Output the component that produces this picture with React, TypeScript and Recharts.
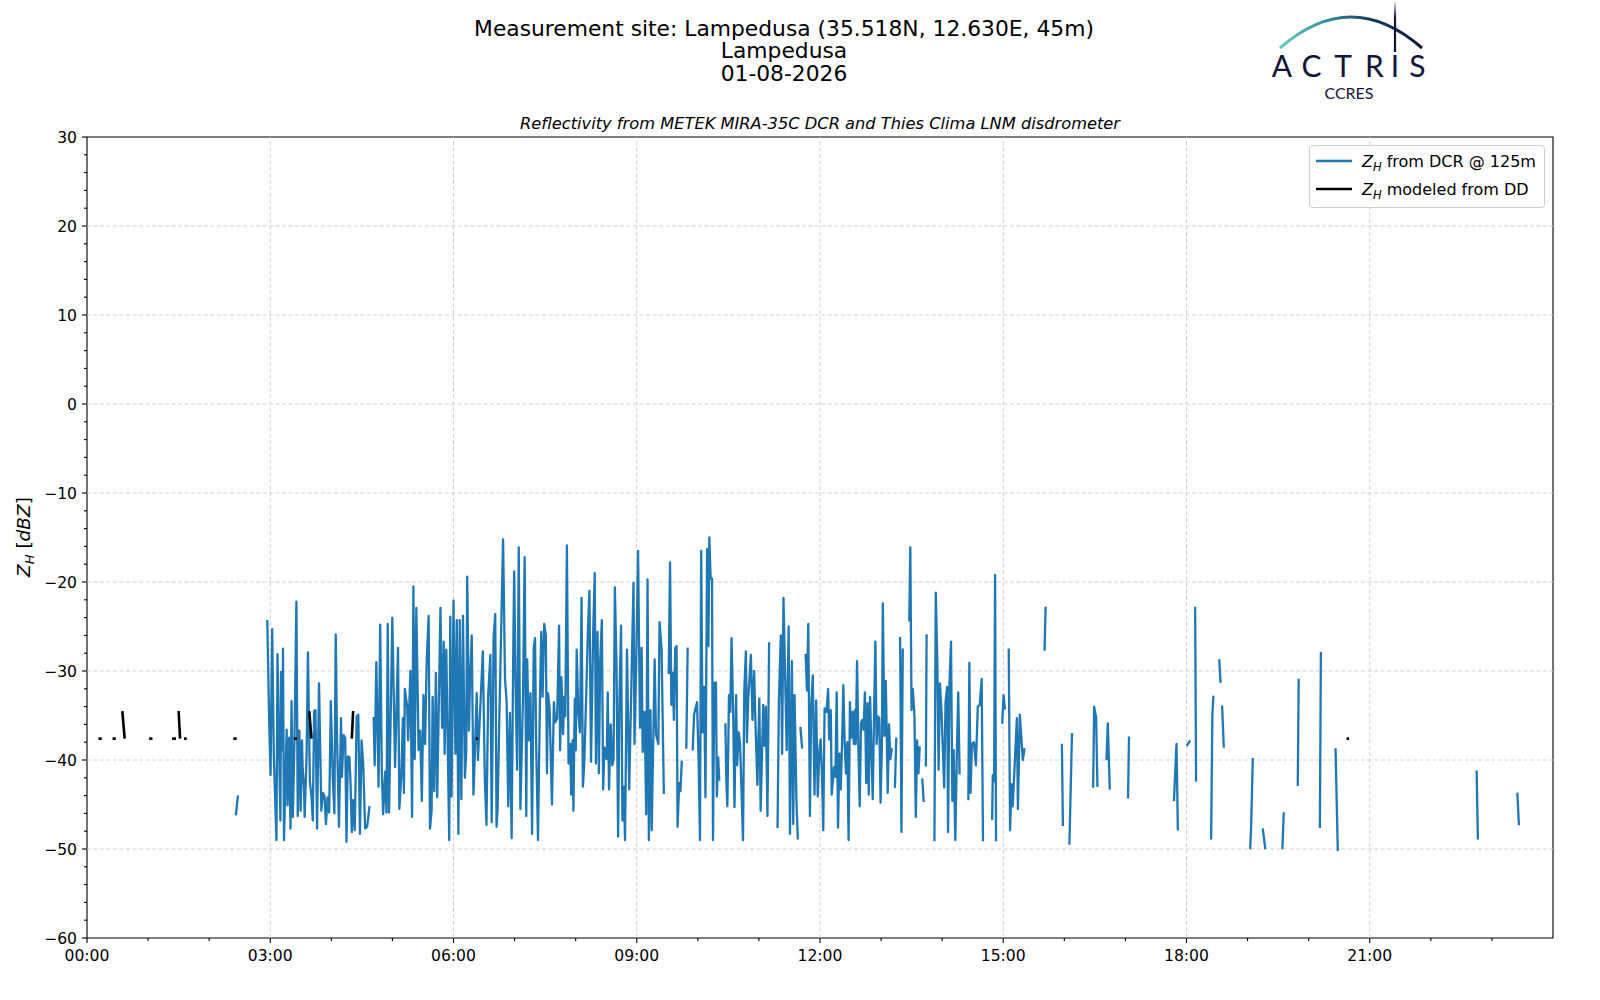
import React from 'react';
import { LineChart, Line, XAxis, YAxis, ReferenceLine, ReferenceArea } from 'recharts';

// ---------- data (time in minutes since 00:00 UTC, value in dBZ; null = gap) ----------
const dcrSeries: Array<[number, number | null]> = [
  [146.3, -46.1], [148.2, -44.1], [160, null],
  [177.1, -24.4], [179.0, -35.9], [180.3, -41.7], [181.9, -25.3], [183.5, -39.5], [186.1, -49.0], [187.1, -28.1], [188.7, -38.9], [190.0, -46.8], [190.6, -30.1],
  [191.9, -38.9], [192.5, -27.5], [193.5, -49.0], [196.1, -36.6], [197.0, -45.1], [198.6, -37.5], [199.9, -47.7], [200.9, -33.4], [202.2, -46.4], [203.8, -37.7],
  [205.7, -22.2], [207.0, -46.3], [208.6, -36.7], [209.9, -45.7], [211.2, -37.8], [211.8, -40.8], [213.1, -43.1], [213.8, -46.4], [215.7, -39.5], [217.0, -27.9],
  [218.9, -42.4], [220.5, -44.1], [221.8, -46.8], [223.1, -34.5], [224.4, -34.4], [226.0, -47.7], [227.9, -31.4], [230.2, -45.7], [231.8, -43.7], [233.4, -44.1],
  [234.7, -47.2], [236.3, -44.2], [237.9, -45.9], [239.5, -33.4], [241.4, -41.9], [243.0, -46.0], [244.3, -25.9], [245.6, -37.5], [247.5, -47.5], [249.5, -35.3],
  [250.4, -41.9], [252.0, -37.2], [253.6, -37.5], [254.9, -49.2], [256.2, -39.6], [257.8, -39.7], [258.8, -42.4], [260.1, -48.1], [261.4, -44.5], [263.0, -47.9],
  [264.9, -35.1], [266.5, -34.9], [268.1, -48.3], [269.7, -37.8], [271.3, -40.4], [273.2, -47.7], [275.2, -47.5], [277.4, -45.3], [279, null],
  [281.6, -35.3], [282.6, -40.6], [284.2, -29.0], [286.4, -43.0], [288.0, -24.8], [289.6, -41.3], [290.9, -46.1], [292.9, -41.3], [294.2, -45.9], [295.4, -24.7],
  [296.7, -45.9], [299.9, -24.0], [302.6, -40.8], [305.5, -27.4], [306.8, -45.5], [308.7, -41.9], [310.3, -35.3], [311.3, -43.7], [312.2, -32.0], [314.5, -34.0],
  [315.4, -37.8], [317.7, -30.0], [319.3, -46.4], [320.6, -20.5], [321.9, -39.9], [323.5, -22.9], [325.7, -38.9], [327.3, -36.7], [328.9, -44.6], [330.5, -32.7],
  [332.1, -38.2], [333.7, -28.7], [335.6, -23.8], [336.9, -47.7], [338.5, -45.7], [339.5, -32.9], [341.1, -43.5], [342.7, -30.2], [344.0, -44.2], [347.2, -22.9],
  [348.8, -36.4], [350.4, -26.7], [351.3, -39.3], [352.9, -27.6], [354.6, -40.0], [355.8, -49.0], [356.8, -23.9], [358.1, -44.1], [360.0, -22.1], [361.9, -39.3],
  [363.2, -24.3], [364.8, -48.3], [366.1, -24.3], [367.7, -44.4], [369.3, -23.8], [371.2, -42.0], [372.5, -39.1], [373.5, -19.4], [375.1, -36.7], [376.3, -30.9],
  [377.9, -26.0], [379.6, -43.9], [380.8, -39.9], [382.8, -32.5], [384.0, -40.0], [388.8, -27.8], [390.8, -42.2], [392.4, -47.3], [394.0, -32.9], [396.2, -28.2],
  [397.5, -47.0], [399.4, -26.3], [401.0, -23.6], [402.3, -47.5], [403.3, -45.5], [404.9, -36.0], [406.8, -25.6], [408.7, -15.2], [410.6, -30.9], [412.2, -33.5],
  [413.8, -45.2], [415.4, -34.7], [417.1, -48.8], [418.7, -27.6], [419.6, -18.8], [420.9, -31.1], [422.5, -41.1], [424.1, -16.1], [425.7, -45.5], [428.3, -32.7],
  [429.9, -17.2], [431.5, -46.3], [432.4, -28.7], [434.0, -37.8], [435.6, -32.5], [437.2, -48.3], [438.8, -27.4], [440.1, -26.3], [441.1, -37.7], [443.0, -49.0],
  [444.9, -33.3], [446.2, -25.6], [447.5, -32.9], [449.1, -24.7], [450.7, -26.0], [451.8, -41.5], [452.8, -32.5], [454.4, -34.2], [456.7, -45.0], [458.6, -33.5],
  [459.9, -35.8], [461.8, -35.3], [463.7, -24.9], [464.7, -38.9], [466.0, -30.7], [467.6, -37.1], [468.8, -32.9], [469.8, -35.1], [471.4, -15.9], [473.0, -40.4],
  [474.6, -38.2], [475.6, -43.9], [476.9, -37.8], [477.8, -45.7], [479.1, -33.1], [480.1, -38.9], [481.0, -27.6], [482.6, -34.6], [484.2, -36.9], [485.8, -21.8],
  [487.1, -43.0], [488.4, -40.4], [490.3, -33.0], [491.9, -26.0], [493.5, -21.0], [495.1, -40.2], [497.1, -26.1], [498.7, -19.0], [499.9, -40.4], [501.5, -25.6],
  [502.8, -41.5], [504.1, -28.9], [505.7, -24.3], [507.0, -43.3], [508.3, -38.6], [510.5, -39.9], [511.5, -32.4], [512.8, -43.3], [514.4, -36.0], [516.0, -40.6],
  [517.2, -40.0], [518.5, -20.6], [520.1, -29.3], [521.7, -48.6], [523.0, -33.1], [524.6, -24.9], [525.9, -46.8], [527.2, -43.0], [528.5, -49.0], [530.4, -27.6],
  [532.6, -43.3], [536.8, -20.1], [537.8, -38.2], [539.4, -29.4], [541.3, -16.5], [543.2, -36.4], [544.8, -27.4], [545.8, -39.1], [547.7, -34.6], [549.3, -46.1],
  [550.6, -19.7], [551.9, -49.0], [553.5, -34.4], [554.7, -47.9], [557.6, -28.7], [558.9, -37.1], [561.2, -38.2], [562.4, -24.5], [564.4, -27.6], [566.6, -43.7],
  [569, null],
  [571.4, -30.2], [572.7, -17.8], [574.0, -33.8], [575.3, -30.2], [576.5, -35.5], [577.8, -27.4], [579.1, -27.2], [580.1, -47.5], [581.7, -42.6], [582.9, -43.5],
  [584.2, -40.2], [586, null],
  [588.7, -38.6], [590.0, -27.5], [592, null],
  [595.0, -38.8], [596.3, -34.9], [599.2, -33.5], [600.8, -40.2], [602.1, -49.0], [603.3, -16.5], [604.6, -36.9], [606.2, -31.8], [607.5, -44.2], [609.1, -16.3],
  [610.4, -27.2], [611.3, -15.0], [612.6, -19.6], [613.9, -19.6], [614.9, -49.0], [616.2, -31.3], [617.8, -31.3], [618.7, -44.1], [620.0, -39.7], [621.0, -42.2],
  [624, null],
  [627.1, -36.0], [628.0, -42.4], [629.0, -45.2], [630.6, -32.7], [631.9, -34.6], [633.1, -26.3], [634.7, -34.6], [636.0, -45.3], [637.6, -32.7], [638.6, -40.6],
  [640.2, -36.9], [641.5, -38.2], [644.4, -49.0], [645.6, -32.4], [647.2, -27.8], [648.2, -38.0], [649.5, -33.1], [652.1, -28.2], [653.7, -35.5], [655.3, -30.0],
  [656.5, -35.5], [658.5, -42.8], [660.4, -33.1], [661.7, -45.7], [664.2, -33.8], [665.5, -38.4], [666.8, -34.0], [668.4, -46.3], [670.0, -26.9], [674, null],
  [678.3, -47.5], [679.6, -33.5], [681.5, -26.0], [682.8, -39.3], [684.1, -21.8], [685.7, -30.3], [687.3, -38.9], [689.2, -25.0], [690.5, -48.3], [692.4, -28.9],
  [693.7, -47.2], [695.0, -32.7], [696.9, -44.8], [698.2, -48.8], [699.5, null],
  [700.8, -36.4], [702.4, -38.6], [704, null],
  [705.9, -28.2], [707.2, -32.2], [708.5, -24.7], [710.1, -46.3], [711.3, -34.2], [712.9, -30.5], [714.6, -43.9], [716.2, -33.3], [717.8, -44.1], [719.4, -38.9],
  [720.6, -37.7], [721.9, -41.3], [723.2, -47.9], [724.5, -34.2], [726.4, -34.6], [728.0, -32.0], [729.0, -37.7], [730.6, -34.4], [731.5, -43.9], [733.8, -40.8],
  [735.1, -41.9], [736.4, -32.4], [737.7, -47.6], [739.1, -39.3], [740.4, -43.3], [741.7, -38.0], [742.9, -31.6], [744.2, -38.0], [745.5, -41.5], [746.8, -38.0],
  [748.1, -49.0], [749.4, -33.5], [750.6, -37.5], [751.9, -34.6], [753.2, -38.2], [754.2, -34.4], [755.1, -38.2], [756.4, -28.9], [757.7, -38.6], [759.0, -45.2],
  [760.3, -35.8], [761.5, -35.5], [762.8, -36.6], [764.1, -32.4], [765.4, -42.6], [766.7, -33.6], [767.9, -43.9], [769.2, -32.9], [770.5, -38.8], [771.8, -44.4],
  [773.1, -34.9], [774.4, -26.7], [775.6, -38.2], [776.9, -35.1], [778.2, -35.3], [779.5, -44.8], [780.8, -38.2], [781.7, -22.4], [783.3, -37.3], [784.6, -31.1],
  [785.6, -37.3], [786.5, -43.7], [787.8, -36.0], [789.1, -39.9], [790.4, -38.8], [792, null],
  [793.6, -43.0], [794.9, -37.6], [796.5, null],
  [798.7, -26.3], [800.0, -48.1], [801.3, -27.6], [805, null],
  [807.7, -24.3], [808.7, -16.1], [809.9, -34.4], [811.2, -32.0], [812.8, -35.1], [814.1, -46.4], [815.4, -37.8], [816.7, -41.5], [817.9, -38.6], [819, null],
  [820.5, -42.2], [821.8, -44.6], [823, null],
  [824.0, -40.6], [824.7, -26.0], [828, null],
  [832.4, -49.0], [833.7, -21.2], [835.3, -29.3], [836.5, -41.1], [837.8, -31.4], [839.4, -34.6], [840.7, -38.9], [842.0, -43.1], [843.3, -33.5], [844.9, -31.8],
  [845.8, -48.1], [847.1, -31.8], [848.7, -26.7], [850.0, -44.6], [851.3, -38.9], [852.9, -49.0], [854.5, -38.9], [855.8, -32.4], [857.1, -41.5], [861, null],
  [865.7, -44.4], [866.7, -29.1], [867.9, -43.7], [869.2, -38.2], [871.2, -38.0], [873.1, -40.6], [875.0, -34.0], [876.9, -33.8], [878.8, -30.9], [880.1, -49.0],
  [884, null],
  [889.1, -46.6], [889.7, -41.7], [891.0, -42.4], [892.0, -19.2], [892.9, -49.0], [896, null],
  [899.0, -35.8], [900.3, -32.7], [901.6, -34.2], [903, null],
  [905.4, -27.6], [906.7, -47.9], [908.0, -42.7], [909.3, -45.2], [913.4, -35.3], [914.4, -45.5], [916.3, -34.9], [919.2, -40.0], [920.8, -38.8], [930, null],
  [940.6, -27.6], [941.6, -22.9], [950, null],
  [957.6, -38.3], [958.6, -47.3], [962, null],
  [965.0, -49.4], [967.5, -37.1], [975, null],
  [988.3, -43.0], [989.3, -34.0], [991.2, -35.2], [992.5, -42.9], [997, null],
  [1001.4, -39.9], [1002.7, -35.9], [1004.6, -43.2], [1015, null],
  [1022.6, -44.2], [1023.5, -37.5], [1040, null],
  [1067.7, -44.5], [1070.2, -38.2], [1071.5, -47.8], [1076, null],
  [1080.8, -38.3], [1083.0, -37.9], [1086, null],
  [1088.5, -22.9], [1089.4, -42.3], [1100, null],
  [1104.2, -48.8], [1105.4, -34.9], [1106.4, -32.9], [1109, null],
  [1112.2, -28.8], [1113.4, -31.2], [1114.2, null],
  [1115.0, -34.0], [1116.6, -38.5], [1130, null],
  [1142.6, -49.9], [1143.5, -47.4], [1145.1, -39.9], [1150, null],
  [1155.0, -47.8], [1157.3, -49.9], [1165, null],
  [1174.2, -49.9], [1175.5, -46.0], [1182, null],
  [1189.3, -42.8], [1190.2, -31.0], [1200, null],
  [1211.0, -47.5], [1212.0, -28.0], [1220, null],
  [1226.4, -38.8], [1228.6, -50.1], [1300, null],
  [1365.0, -41.3], [1366.2, -48.8], [1390, null],
  [1405.0, -43.8], [1406.5, -47.2],
];

const ddSeries: Array<[number, number | null]> = [
  [11.3, -37.6], [14.5, -37.6], [20, null],
  [25.1, -37.6], [28.3, -37.6], [31, null],
  [34.7, -34.5], [37.0, -37.6], [50, null],
  [61.1, -37.6], [64.3, -37.6], [75, null],
  [83.6, -37.6], [87.4, -37.6], [89, null],
  [90.0, -34.5], [91.4, -37.6], [93, null],
  [95.3, -37.6], [98.0, -37.6], [120, null],
  [143.7, -37.6], [147.0, -37.6], [180, null],
  [203.2, -37.6], [206.2, -37.6], [212, null],
  [218.3, -34.5], [220.5, -37.6], [240, null],
  [260.1, -37.6], [261.4, -34.5], [300, null],
  [381.8, -37.6], [384.0, -37.6], [900, null],
  [1237.2, -37.6], [1239.6, -37.6],
];

const hourTicks = [0, 60, 120, 180, 240, 300, 360, 420, 480, 540, 600, 660, 720, 780, 840, 900, 960, 1020, 1080, 1140, 1200, 1260, 1320, 1380];
const timeLabels = ['00:00', '03:00', '06:00', '09:00', '12:00', '15:00', '18:00', '21:00'];
const majorTimes = [0, 180, 360, 540, 720, 900, 1080, 1260];
const dbzTicks = [-60, -58, -56, -54, -52, -50, -48, -46, -44, -42, -40, -38, -36, -34, -32, -30, -28, -26, -24, -22, -20, -18, -16, -14, -12, -10, -8, -6, -4, -2, 0, 2, 4, 6, 8, 10, 12, 14, 16, 18, 20, 22, 24, 26, 28, 30];
const dbzMajor = [-60, -50, -40, -30, -20, -10, 0, 10, 20, 30];

const titleLines = ['Measurement site: Lampedusa (35.518N, 12.630E, 45m)', 'Lampedusa', '01-08-2026'];
const subtitle = 'Reflectivity from METEK MIRA-35C DCR and Thies Clima LNM disdrometer';
const logoLetters = ['A', 'C', 'T', 'R', 'I', 'S'];

const dcrData = dcrSeries.map(([t, v]) => ({ t, v }));
const ddData = ddSeries.map(([t, v]) => ({ t, v }));

const FONT = '"DejaVu Sans", Verdana, sans-serif';
const LOGO_FONT = 'Lato, "Open Sans", sans-serif';

function XTick(props: any) {
  const { x, y, payload } = props;
  const v = payload.value;
  const idx = majorTimes.indexOf(v);
  const major = idx >= 0;
  return (
    <g>
      <line x1={x} x2={x} y1={y} y2={y + (major ? 5 : 3)} stroke="#000" strokeWidth={1.1} />
      {major && (
        <text x={x} y={y + 22.5} textAnchor="middle" fontSize={15.6} fontFamily={FONT} fill="#000">
          {timeLabels[idx]}
        </text>
      )}
    </g>
  );
}

function YTick(props: any) {
  const { x, y, payload } = props;
  const v = payload.value;
  const major = dbzMajor.indexOf(v) >= 0;
  const label = v < 0 ? '\u2212' + Math.abs(v) : String(v);
  return (
    <g>
      <line x1={x - (major ? 5 : 3)} x2={x} y1={y} y2={y} stroke="#000" strokeWidth={1.1} />
      {major && (
        <text x={x - 10} y={y + 5.6} textAnchor="end" fontSize={15.6} fontFamily={FONT} fill="#000">
          {label}
        </text>
      )}
    </g>
  );
}

function Overlay() {
  const letterX = [1282, 1311.5, 1343, 1374.5, 1395, 1417.5];
  return (
    <svg width={1600} height={1000} style={{ position: 'absolute', left: 0, top: 0, pointerEvents: 'none' }}>
      <defs>
        <linearGradient id="arcGrad" x1="1280" y1="0" x2="1422" y2="0" gradientUnits="userSpaceOnUse">
          <stop offset="0" stopColor="#6cc6c4" />
          <stop offset="0.35" stopColor="#2f8d9c" />
          <stop offset="0.65" stopColor="#13375a" />
          <stop offset="1" stopColor="#0d1436" />
        </linearGradient>
        <linearGradient id="barGrad" x1="0" y1="0" x2="0" y2="52" gradientUnits="userSpaceOnUse">
          <stop offset="0" stopColor="#ffffff" />
          <stop offset="0.35" stopColor="#0d1436" />
          <stop offset="1" stopColor="#0d1436" />
        </linearGradient>
      </defs>
      {/* titles */}
      <text x={784} y={35.5} textAnchor="middle" fontSize={21.8} fontFamily={FONT} fill="#000">{titleLines[0]}</text>
      <text x={784} y={58} textAnchor="middle" fontSize={21.8} fontFamily={FONT} fill="#000">{titleLines[1]}</text>
      <text x={784} y={80.5} textAnchor="middle" fontSize={21.8} fontFamily={FONT} fill="#000">{titleLines[2]}</text>
      <text x={820} y={129} textAnchor="middle" fontSize={16.25} fontStyle="italic" fontFamily={FONT} fill="#000">{subtitle}</text>

      {/* logo */}
      <path d="M1280 48 Q1351 -14 1422 48" fill="none" stroke="url(#arcGrad)" strokeWidth={3} />
      <line x1={1395} x2={1395} y1={1} y2={52} stroke="url(#barGrad)" strokeWidth={2.2} />
      {logoLetters.map((ch, i) => (
        <text key={i} x={letterX[i]} y={77} textAnchor="middle" fontSize={30} fontFamily={LOGO_FONT} fill="#111538">
          {ch}
        </text>
      ))}
      <text x={1349} y={99} textAnchor="middle" fontSize={16} fontFamily={LOGO_FONT} fill="#111538">CCRES</text>

      {/* y-axis label */}
      <text transform="translate(29.5,537) rotate(-90)" textAnchor="middle" fontSize={18.5} fontFamily={FONT} fill="#000">
        <tspan fontStyle="italic">Z</tspan>
        <tspan fontStyle="italic" fontSize={13} dy={4.5}>H</tspan>
        <tspan dy={-4.5}>{' ['}</tspan>
        <tspan fontStyle="italic">dBZ</tspan>
        <tspan>]</tspan>
      </text>

      {/* legend */}
      <rect x={1309.5} y={145.5} width={235} height={62} rx={3} fill="#ffffff" fillOpacity={0.8} stroke="#cccccc" strokeWidth={1} />
      <line x1={1316} x2={1352} y1={161} y2={161} stroke="#1f77b4" strokeWidth={2.3} />
      <line x1={1316} x2={1352} y1={189} y2={189} stroke="#000000" strokeWidth={2.3} />
      <text x={1362} y={166.5} fontSize={16} fontFamily={FONT} fill="#000">
        <tspan fontStyle="italic">Z</tspan>
        <tspan fontStyle="italic" fontSize={11.5} dy={4}>H</tspan>
        <tspan dy={-4}>{' from DCR @ 125m'}</tspan>
      </text>
      <text x={1362} y={194.5} fontSize={16} fontFamily={FONT} fill="#000">
        <tspan fontStyle="italic">Z</tspan>
        <tspan fontStyle="italic" fontSize={11.5} dy={4}>H</tspan>
        <tspan dy={-4}>{' modeled from DD'}</tspan>
      </text>
    </svg>
  );
}

export default function App() {
  return (
    <div style={{ position: 'absolute', left: 0, top: 0, width: 1600, height: 1000, background: '#fff' }}>
      <LineChart width={1600} height={1000} margin={{ top: 137, right: 47, bottom: 32, left: 27 }}>
        <XAxis
          dataKey="t"
          type="number"
          domain={[0, 1440]}
          ticks={hourTicks}
          interval={0}
          tick={<XTick />}
          tickLine={false}
          axisLine={false}
          tickSize={0}
          tickMargin={0}
          height={30}
          allowDataOverflow
        />
        <YAxis
          type="number"
          domain={[-60, 30]}
          ticks={dbzTicks}
          interval={0}
          tick={<YTick />}
          tickLine={false}
          axisLine={false}
          tickSize={0}
          tickMargin={0}
          width={60}
          allowDataOverflow
        />
        {majorTimes.slice(1).map((t) => (
          <ReferenceLine key={'gx' + t} x={t} stroke="#d0d0d0" strokeWidth={1} strokeDasharray="4 2.5" />
        ))}
        {dbzMajor.slice(1, -1).map((v) => (
          <ReferenceLine key={'gy' + v} y={v} stroke="#d0d0d0" strokeWidth={1} strokeDasharray="4 2.5" />
        ))}
        <Line
          data={dcrData}
          dataKey="v"
          type="linear"
          stroke="#1f77b4"
          strokeWidth={2.3}
          dot={false}
          activeDot={false}
          connectNulls={false}
          isAnimationActive={false}
          strokeLinejoin="round"
          strokeLinecap="square"
        />
        <Line
          data={ddData}
          dataKey="v"
          type="linear"
          stroke="#000000"
          strokeWidth={2.6}
          dot={false}
          activeDot={false}
          connectNulls={false}
          isAnimationActive={false}
          strokeLinejoin="round"
          strokeLinecap="butt"
        />
        <ReferenceArea x1={0} x2={1440} y1={-60} y2={30} fill="none" stroke="#000" strokeWidth={1.1} />
      </LineChart>
      <Overlay />
    </div>
  );
}
